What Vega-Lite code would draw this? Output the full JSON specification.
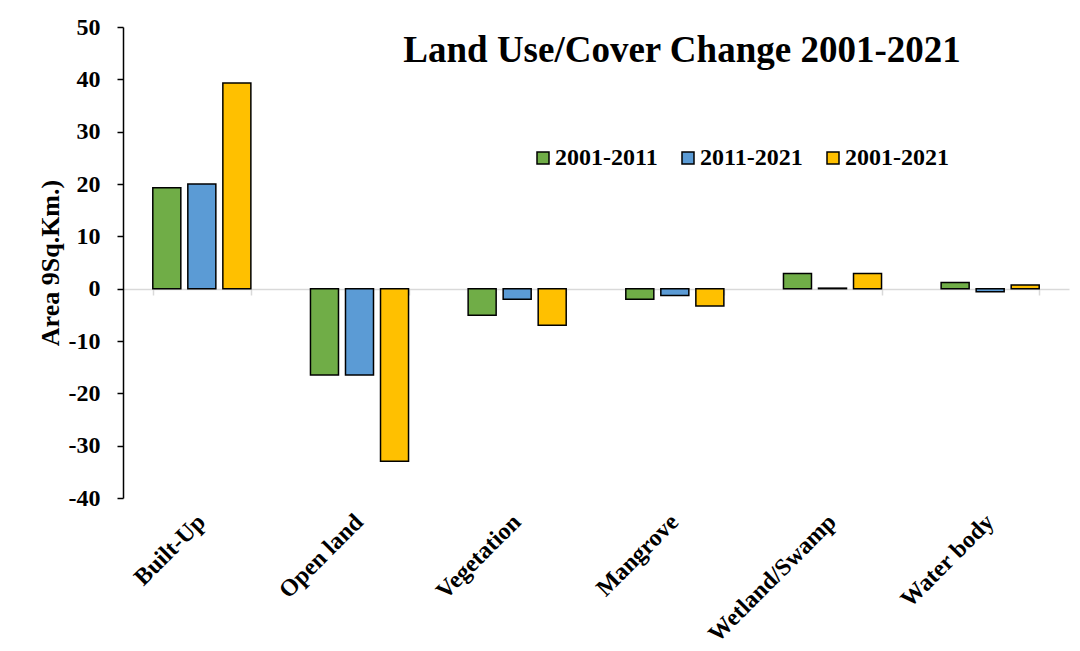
{
  "$schema": "https://vega.github.io/schema/vega-lite/v6.json",
  "autosize": {"type": "none"},
  "width": 946,
  "height": 471,
  "padding": {"left": 123, "top": 27, "right": 11, "bottom": 153},
  "background": "white",
  "config": {
    "font": "Liberation Serif",
    "view": {"stroke": null}
  },
  "title": {
    "text": "Land Use/Cover Change 2001-2021",
    "font": "Liberation Serif",
    "fontSize": 37,
    "fontWeight": "bold",
    "color": "black",
    "frame": "group",
    "anchor": "middle",
    "baseline": "alphabetic",
    "dx": 86,
    "dy": 48,
    "offset": -36
  },
  "data": {
    "values": [
      {"category": "Built-Up", "period": "2001-2011", "area": 19.3},
      {"category": "Built-Up", "period": "2011-2021", "area": 20.0},
      {"category": "Built-Up", "period": "2001-2021", "area": 39.3},
      {"category": "Open land", "period": "2001-2011", "area": -16.5},
      {"category": "Open land", "period": "2011-2021", "area": -16.5},
      {"category": "Open land", "period": "2001-2021", "area": -33.0},
      {"category": "Vegetation", "period": "2001-2011", "area": -5.1},
      {"category": "Vegetation", "period": "2011-2021", "area": -2.0},
      {"category": "Vegetation", "period": "2001-2021", "area": -7.0},
      {"category": "Mangrove", "period": "2001-2011", "area": -2.0},
      {"category": "Mangrove", "period": "2011-2021", "area": -1.3},
      {"category": "Mangrove", "period": "2001-2021", "area": -3.3},
      {"category": "Wetland/Swamp", "period": "2001-2011", "area": 2.9},
      {"category": "Wetland/Swamp", "period": "2011-2021", "area": 0.1},
      {"category": "Wetland/Swamp", "period": "2001-2021", "area": 2.9},
      {"category": "Water body", "period": "2001-2011", "area": 1.2},
      {"category": "Water body", "period": "2011-2021", "area": -0.6},
      {"category": "Water body", "period": "2001-2021", "area": 0.7}
    ]
  },
  "resolve": {"axis": {"x": "independent"}},
  "layer": [
    {
      "mark": {"type": "point", "opacity": 0},
      "encoding": {
        "x": {
          "field": "category",
          "type": "nominal",
          "sort": null,
          "scale": {"paddingInner": 0.378, "paddingOuter": 0.189},
          "axis": {
            "orient": "bottom",
            "offset": -209,
            "labels": false,
            "title": null,
            "domainColor": "#d9d9d9",
            "domainWidth": 1.5,
            "tickColor": "#d9d9d9",
            "tickWidth": 1.5,
            "tickSize": 6,
            "tickBand": "extent"
          }
        },
        "y": {"datum": 0, "type": "quantitative"}
      }
    },
    {
      "mark": {"type": "bar", "stroke": "black", "strokeWidth": 1.5},
      "encoding": {
        "x": {
          "field": "category",
          "type": "nominal",
          "sort": null,
          "axis": {
            "orient": "bottom",
            "title": null,
            "domain": false,
            "ticks": false,
            "labelAngle": -45,
            "labelAlign": "right",
            "labelBaseline": "middle",
            "labelPadding": 20,
            "labelFont": "Liberation Serif",
            "labelFontSize": 24,
            "labelFontWeight": "bold",
            "labelColor": "black"
          }
        },
        "xOffset": {
          "field": "period",
          "type": "nominal",
          "sort": ["2001-2011", "2011-2021", "2001-2021"],
          "scale": {"paddingInner": 0.2, "paddingOuter": 0}
        },
        "y": {
          "field": "area",
          "type": "quantitative",
          "scale": {"domain": [-40, 50], "nice": false},
          "axis": {
            "title": "Area 9Sq.Km.)",
            "titleFont": "Liberation Serif",
            "titleFontSize": 26,
            "titleFontWeight": "bold",
            "titleColor": "black",
            "titlePadding": 5,
            "values": [-40, -30, -20, -10, 0, 10, 20, 30, 40, 50],
            "labelExpr": "toString(datum.value)",
            "grid": false,
            "domainColor": "black",
            "domainWidth": 1.5,
            "tickColor": "black",
            "tickWidth": 1.5,
            "tickSize": 6,
            "labelPadding": 17,
            "labelFont": "Liberation Serif",
            "labelFontSize": 24,
            "labelFontWeight": "bold",
            "labelColor": "black"
          }
        },
        "color": {
          "field": "period",
          "type": "nominal",
          "scale": {
            "domain": ["2001-2011", "2011-2021", "2001-2021"],
            "range": ["#70AD47", "#5B9BD5", "#FFC000"]
          },
          "legend": {
            "orient": "none",
            "legendX": 408,
            "legendY": 119,
            "direction": "horizontal",
            "title": null,
            "symbolType": "square",
            "symbolSize": 144,
            "symbolStrokeColor": "black",
            "symbolStrokeWidth": 1.5,
            "symbolOpacity": 1,
            "labelFont": "Liberation Serif",
            "labelFontSize": 24,
            "labelFontWeight": "bold",
            "labelColor": "black",
            "labelOffset": 0,
            "columnPadding": 18
          }
        }
      }
    }
  ]
}
